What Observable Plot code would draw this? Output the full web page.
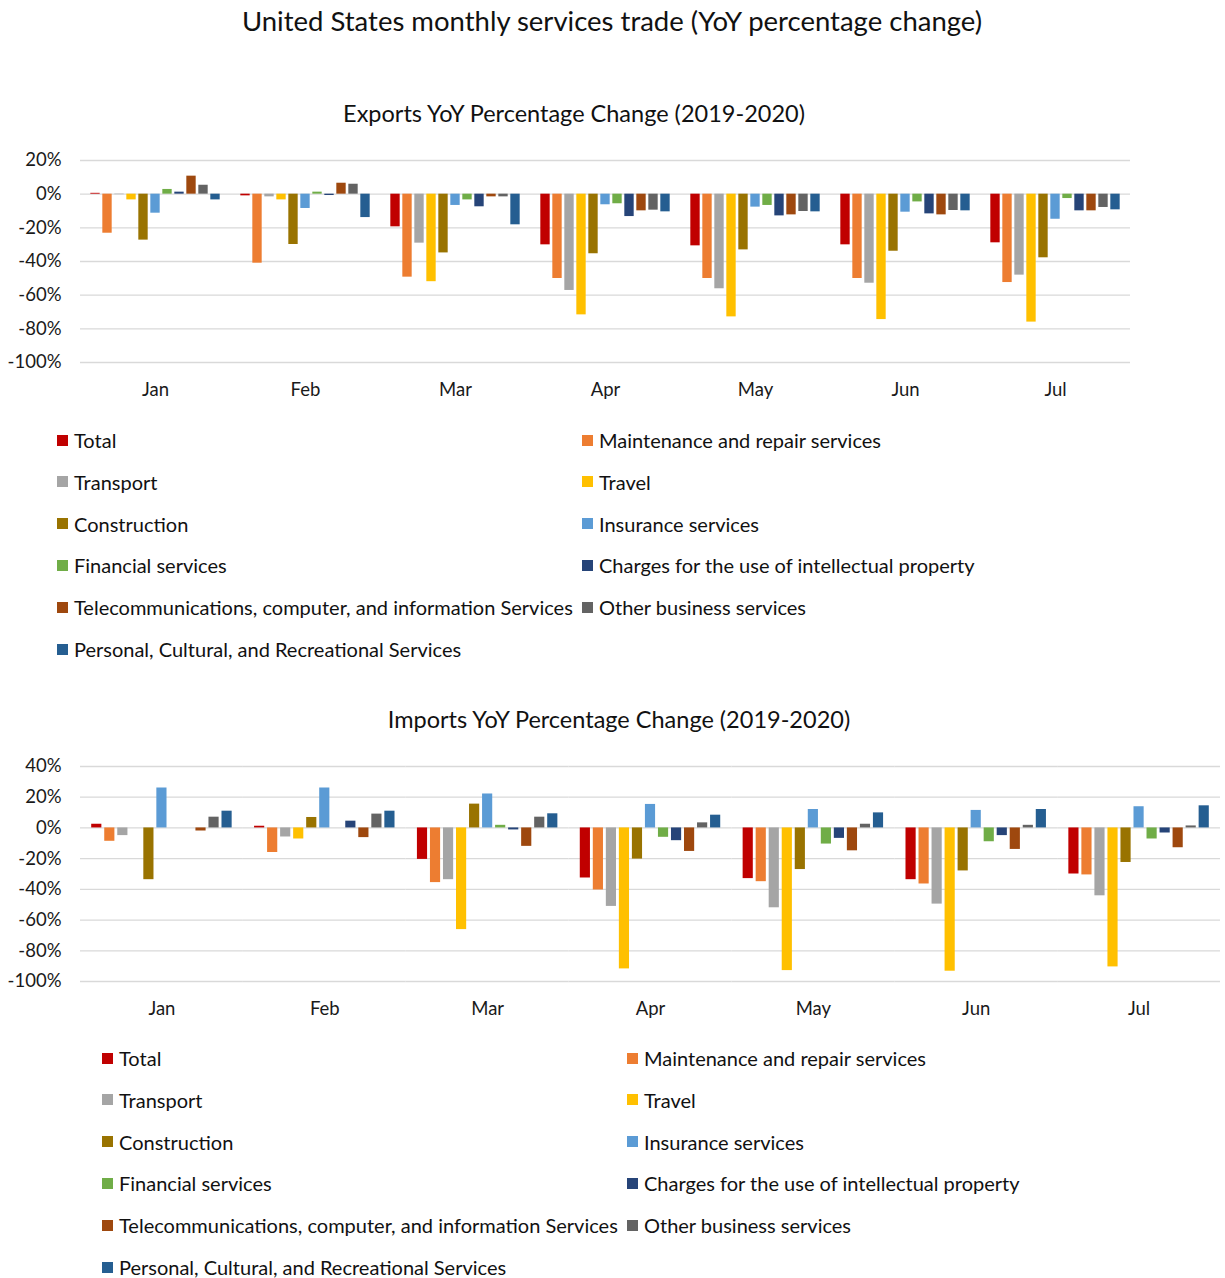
<!DOCTYPE html>
<html><head><meta charset="utf-8">
<script src="https://cdn.jsdelivr.net/npm/d3@7"></script>
<script src="https://cdn.jsdelivr.net/npm/@observablehq/plot@0.6"></script>
<style>
body{margin:0;width:1225px;height:1278px;position:relative;font-family:Lato,sans-serif;background:#fff;color:#111;overflow:hidden}
.abs{position:absolute;white-space:nowrap}
.title{font-size:27.5px;transform:translate(-50%,-50%)}
.sub{font-size:23.5px;transform:translate(-50%,-50%)}
.leg{font-size:20px;display:flex;align-items:center;transform:translateY(-50%)}
.sw{width:11px;height:11px;margin-right:6px;display:inline-block}
</style></head>
<body>
<script>
const months = ["Jan","Feb","Mar","Apr","May","Jun","Jul"];
const series = ["Total","Maintenance and repair services","Transport","Travel","Construction","Insurance services","Financial services","Charges for the use of intellectual property","Telecommunications, computer, and information Services","Other business services","Personal, Cultural, and Recreational Services"];
const colors = ["#C00000","#ED7D31","#A5A5A5","#FFC000","#997300","#5B9BD5","#70AD47","#264478","#9E480E","#636363","#255E91"];

// Exports YoY % change, one array per series (Jan..Jul)
const expTotal       = [0.5, -1, -19.4, -30.1, -30.7, -30.1, -28.9];
const expMaintenance = [-23.2, -41, -49.3, -50.1, -50.1, -50.1, -52.5];
const expTransport   = [-0.3, -1.6, -29.1, -57.2, -56.2, -52.9, -48.1];
const expTravel      = [-3.4, -3.4, -52, -71.7, -72.9, -74.5, -76];
const expConstruction= [-27.3, -29.9, -34.9, -35.4, -33.1, -33.9, -37.8];
const expInsurance   = [-11.3, -8.5, -6.7, -6.3, -7.7, -10.7, -14.9];
const expFinancial   = [2.8, 1.2, -3.4, -5.7, -6.7, -4.6, -2.6];
const expCharges     = [1.2, -0.8, -7.5, -13.3, -12.9, -11.7, -9.9];
const expTelecom     = [10.7, 6.5, -1.6, -9.9, -12.3, -12.3, -9.9];
const expOther       = [5.3, 5.9, -1.6, -9.5, -10.3, -9.7, -7.9];
const expPersonal    = [-3.4, -13.9, -18.2, -10.5, -10.5, -9.9, -9.3];

// Imports YoY % change
const impTotal       = [2.4, 1.1, -20.5, -32.6, -33, -33.7, -30];
const impMaintenance = [-8.7, -16, -35.6, -40.4, -35, -36.5, -30.6];
const impTransport   = [-5, -5.9, -33.7, -51.1, -52, -49.6, -44.2];
const impTravel      = [0, -7.2, -66.2, -91.8, -92.9, -93.3, -90.5];
const impConstruction= [-33.7, 6.8, 15.5, -20.3, -27.1, -28, -22.5];
const impInsurance   = [26, 26, 22.1, 15.3, 12, 11.4, 13.8];
const impFinancial   = [0, 0, 1.7, -6.1, -10.5, -9, -7.2];
const impCharges     = [0, 4.4, -1.3, -8.3, -6.8, -5, -3.3];
const impTelecom     = [-2, -6.3, -12, -15.3, -14.9, -14, -12.9];
const impOther       = [7, 9, 7, 3.3, 2.4, 1.7, 1.3];
const impPersonal    = [10.9, 10.9, 9.2, 8.3, 9.8, 12, 14.4];

const expTicks = [20, 0, -20, -40, -60, -80, -100];
const impTicks = [40, 20, 0, -20, -40, -60, -80, -100];

const expValues = [expTotal, expMaintenance, expTransport, expTravel, expConstruction, expInsurance, expFinancial, expCharges, expTelecom, expOther, expPersonal];
const impValues = [impTotal, impMaintenance, impTransport, impTravel, impConstruction, impInsurance, impFinancial, impCharges, impTelecom, impOther, impPersonal];

function toRows(values) {
  const rows = [];
  series.forEach((s, i) => months.forEach((m, j) => rows.push({month: m, series: s, value: values[i][j]})));
  return rows;
}

function chart(values, ticks, opts) {
  const data = toRows(values);
  return Plot.plot({
    width: 1225, height: opts.height,
    marginLeft: 80, marginRight: opts.marginRight, marginTop: 20, marginBottom: opts.marginBottom,
    style: {fontFamily: "Lato, sans-serif", fontSize: "18.5px", color: "#1a1a1a", background: "transparent"},
    facet: {data, x: "month"},
    fx: {domain: months, padding: 0, round: false, label: null, axis: "bottom", tickSize: 0, tickPadding: 20},
    x: {domain: series, axis: null, round: false, paddingInner: 0.22, paddingOuter: 0.86},
    y: {domain: [ticks[ticks.length - 1], ticks[0]], ticks, tickSize: 0, tickPadding: 19, tickFormat: d => d + "%", label: null},
    color: {domain: series, range: colors},
    marks: [
      Plot.ruleY(ticks, {stroke: "#d9d9d9", strokeWidth: 1.3}),
      Plot.barY(data, {x: "series", y: "value", fill: "series"})
    ]
  });
}

function place(el, top) {
  el.style.position = "absolute"; el.style.left = "0px"; el.style.top = top + "px";
  document.body.appendChild(el);
}
function text(cls, str, x, y) {
  const d = document.createElement("div");
  d.className = "abs " + cls; d.textContent = str;
  d.style.left = x + "px"; d.style.top = y + "px";
  document.body.appendChild(d);
}
function legend(x0, y0) {
  series.forEach((s, i) => {
    const d = document.createElement("div");
    d.className = "abs leg";
    d.style.left = (x0 + (i % 2) * 525) + "px";
    d.style.top = (y0 + Math.floor(i / 2) * 41.8) + "px";
    const sw = document.createElement("span"); sw.className = "sw"; sw.style.background = colors[i];
    d.appendChild(sw); d.appendChild(document.createTextNode(s));
    document.body.appendChild(d);
  });
}

text("title", "United States monthly services trade (YoY percentage change)", 612, 20);
text("sub", "Exports YoY Percentage Change (2019-2020)", 574, 113);
place(chart(expValues, expTicks, {height: 262, marginRight: 95, marginBottom: 40}), 140);
legend(57, 440);
text("sub", "Imports YoY Percentage Change (2019-2020)", 619, 719);
place(chart(impValues, impTicks, {height: 275, marginRight: 5, marginBottom: 40}), 746);
legend(102, 1058);
</script>
</body></html>
